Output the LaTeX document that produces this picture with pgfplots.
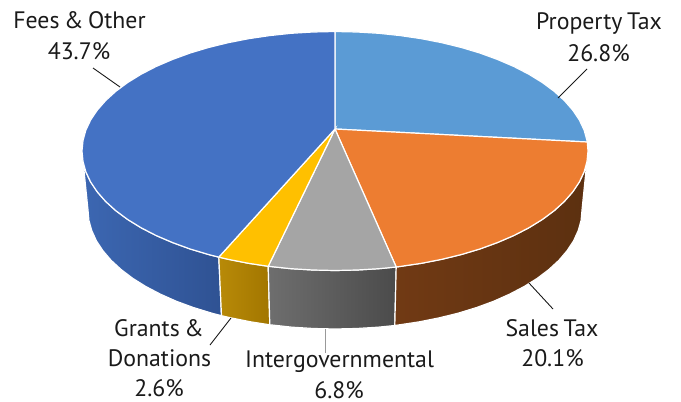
\documentclass[border=0pt]{standalone}
\usepackage{pgfplots}
\pgfplotsset{compat=1.18}
\usepackage{fontspec}
\setmainfont[WordSpace=0.72]{PT Sans}
\definecolor{cProp}{HTML}{5B9BD5}
\definecolor{cSales}{HTML}{ED7D31}
\definecolor{cInter}{HTML}{A5A5A5}
\definecolor{cGrant}{HTML}{FFC000}
\definecolor{cFees}{HTML}{4472C4}
\definecolor{wFeesL}{HTML}{3C67B2}
\definecolor{wFeesR}{HTML}{2F5293}
\definecolor{wGrantL}{HTML}{B88A08}
\definecolor{wGrantR}{HTML}{A27600}
\definecolor{wInterL}{HTML}{6E6E6E}
\definecolor{wInterR}{HTML}{4B4B4B}
\definecolor{wSalesL}{HTML}{713A14}
\definecolor{wSalesR}{HTML}{5C3010}
\definecolor{txt}{HTML}{1A1A1A}
\newcommand{\lab}[3]{\node[text=txt,inner sep=0pt,anchor=center] at (axis cs:#1,#2) {\fontsize{23.8}{27}\selectfont #3};}
\begin{document}
\begin{tikzpicture}
\begin{axis}[scale only axis,width=681pt,height=402pt,xmin=0,xmax=681,ymin=0,ymax=402,y dir=reverse,hide axis,clip=false]
\path (axis cs:0,0) rectangle (axis cs:681,402);
% walls
\addplot[left color=wFeesL,right color=wFeesR,draw=white,line width=1.2pt] coordinates {(218.8,257.1)(208.5,254.5)(189.9,248.9)(172.4,242.5)(156.1,235.5)(141.2,227.8)(127.7,219.5)(115.9,210.75)(105.7,201.5)(97.3,191.9)(90.6,181.9)(85.8,171.7)(83,161.4)(82,151)(88,210)(88.9,220.4)(91.8,230.7)(96.4,240.8)(102.9,250.7)(111.1,260.3)(121.1,269.5)(132.7,278.3)(145.8,286.5)(160.3,294.1)(176.2,301.2)(193.3,307.5)(211.5,313.1)(221.5,315.7)} --cycle;
\addplot[left color=wGrantL,right color=wGrantR,draw=white,line width=1.2pt] coordinates {(268.2,266.3)(248.5,263.3)(228.1,259.3)(218.8,257.1)(221.5,315.7)(230.6,317.8)(250.5,321.8)(269.8,324.8)} --cycle;
\addplot[left color=wInterL,right color=wInterR,draw=white,line width=1.2pt] coordinates {(396.2,267)(378.9,268.7)(357.1,270)(335,270.5)(312.9,270)(291.1,268.7)(269.5,266.4)(268.2,266.3)(269.8,324.8)(271.1,324.9)(292.1,327.2)(313.5,328.5)(335,329)(356.5,328.5)(377.9,327.2)(394.8,325.5)} --cycle;
\addplot[left color=wSalesL,middle color=wSalesR,right color=wSalesR,draw=white,line width=1.2pt] coordinates {(588,151)(587,161.4)(584.2,171.7)(579.4,181.9)(572.7,191.9)(564.3,201.5)(554.1,210.75)(542.3,219.5)(528.8,227.8)(513.9,235.5)(497.6,242.5)(480.1,248.9)(461.5,254.5)(441.9,259.3)(421.5,263.3)(400.5,266.4)(396.2,267)(394.8,325.5)(398.9,324.9)(419.5,321.8)(439.4,317.8)(458.5,313.1)(476.7,307.5)(493.8,301.2)(509.7,294.1)(524.2,286.5)(537.3,278.3)(548.9,269.5)(558.9,260.3)(567.1,250.7)(573.6,240.8)(578.2,230.7)(581.1,220.4)(582,210)} --cycle;
% top faces
\addplot[fill=cProp,draw=white,line width=1.2pt] coordinates {(335,129)(335,31.5)(357.1,32)(378.9,33.3)(400.5,35.6)(421.5,38.7)(441.9,42.7)(461.5,47.5)(480.1,53.1)(497.6,59.5)(513.9,66.5)(528.8,74.2)(542.3,82.5)(554.1,91.25)(564.3,100.5)(572.7,110.1)(579.4,120.1)(584.2,130.3)(587,140.6)(587.3,142)} --cycle;
\addplot[fill=cSales,draw=white,line width=1.2pt] coordinates {(335,129)(587.3,142)(588,151)(587,161.4)(584.2,171.7)(579.4,181.9)(572.7,191.9)(564.3,201.5)(554.1,210.75)(542.3,219.5)(528.8,227.8)(513.9,235.5)(497.6,242.5)(480.1,248.9)(461.5,254.5)(441.9,259.3)(421.5,263.3)(400.5,266.4)(396.2,267)} --cycle;
\addplot[fill=cInter,draw=white,line width=1.2pt] coordinates {(335,129)(396.2,267)(378.9,268.7)(357.1,270)(335,270.5)(312.9,270)(291.1,268.7)(269.5,266.4)(268.2,266.3)} --cycle;
\addplot[fill=cGrant,draw=white,line width=1.2pt] coordinates {(335,129)(268.2,266.3)(248.5,263.3)(228.1,259.3)(218.8,257.1)} --cycle;
\addplot[fill=cFees,draw=white,line width=1.2pt] coordinates {(335,129)(218.8,257.1)(208.5,254.5)(189.9,248.9)(172.4,242.5)(156.1,235.5)(141.2,227.8)(127.7,219.5)(115.9,210.75)(105.7,201.5)(97.3,191.9)(90.6,181.9)(85.8,171.7)(83,161.4)(82,151)(83,140.6)(85.8,130.3)(90.6,120.1)(97.3,110.1)(105.7,100.5)(115.9,91.25)(127.7,82.5)(141.2,74.2)(156.1,66.5)(172.4,59.5)(189.9,53.1)(208.5,47.5)(228.1,42.7)(248.5,38.7)(269.5,35.6)(291.1,33.3)(312.9,32)(335,31.5)} --cycle;
% leader lines
\addplot[txt,line width=0.9pt] coordinates {(558,98)(587,69)};
\addplot[txt,line width=0.9pt] coordinates {(120,87)(93,68)};
\addplot[txt,line width=0.9pt] coordinates {(529,283)(553,309)};
\addplot[gray!80,line width=0.9pt] coordinates {(325.7,329)(325.7,353)};
\addplot[txt,line width=0.9pt] coordinates {(231,318)(210,345)};
% labels
\lab{79.5}{20.5}{Fees \& Other}
\lab{79}{51.5}{43.7\%}
\lab{599}{23.5}{Property Tax}
\lab{598.5}{53.5}{26.8\%}
\lab{552}{328}{Sales Tax}
\lab{552.5}{358}{20.1\%}
\lab{159}{328}{Grants \&}
\lab{159.5}{358}{Donations}
\lab{159}{388.5}{2.6\%}
\lab{339.5}{361.5}{Intergovernmental}
\lab{339}{390.5}{6.8\%}
\end{axis}
\end{tikzpicture}
\end{document}
